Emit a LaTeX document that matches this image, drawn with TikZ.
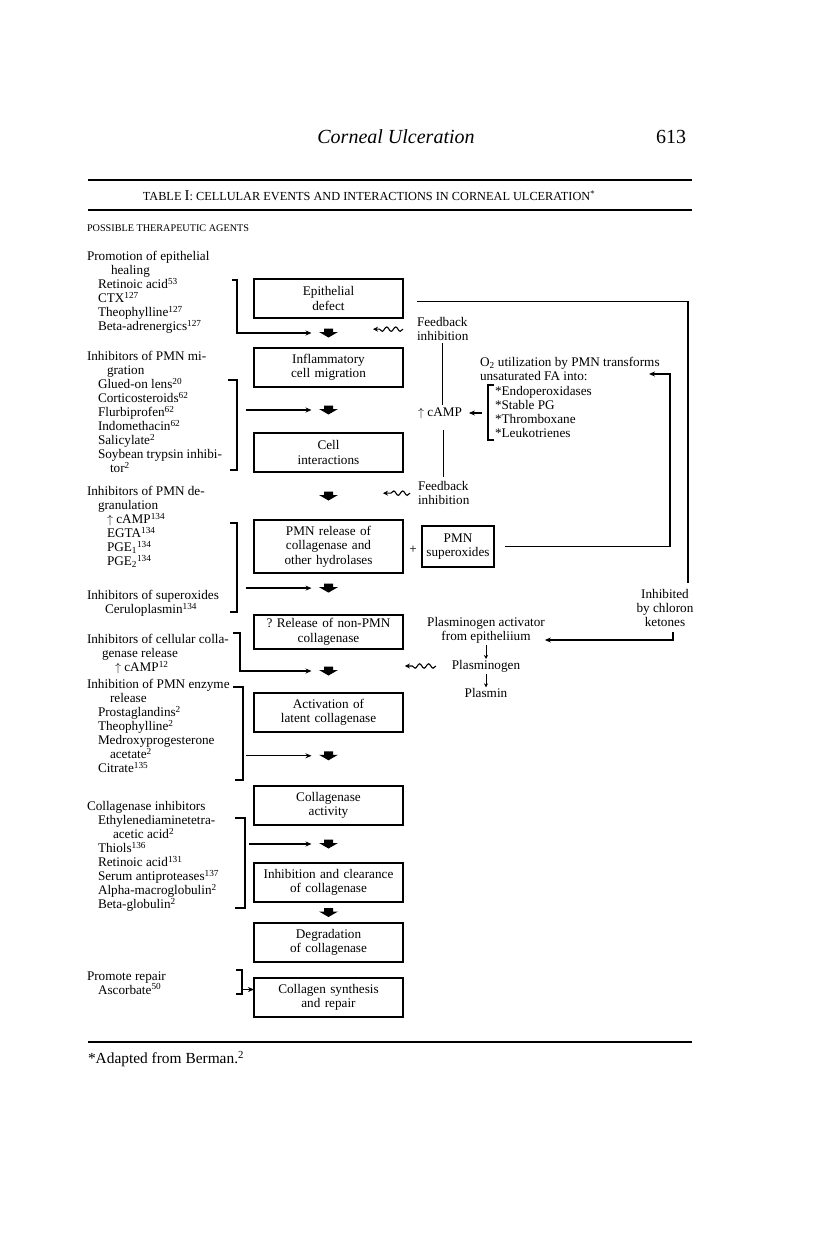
\documentclass[tikz,border=0pt]{standalone}
\usepackage{fontspec}
\setmainfont{Liberation Serif}
\usetikzlibrary{arrows.meta, positioning, calc, decorations.pathmorphing}

\newcommand{\agind}[1]{\hspace*{#1pt}}

\begin{document}
\begin{tikzpicture}[
      x=1pt, y=-1pt,
      every node/.style={inner sep=0pt, outer sep=0pt, font=\fontsize{13.2}{14}\selectfont},
      box/.style={rectangle, draw, line width=1.5pt, text width=141pt,
                  inner xsep=4pt, align=center, minimum height=39pt,
                  font=\fontsize{13.2}{14.5}\selectfont},
      agents/.style={anchor=north west, align=left},
      line/.style={draw, line width=1.3pt, -{Stealth[length=6pt, width=5pt]}},
      link/.style={draw, line width=1.3pt},
      tinyarrow/.style={draw, line width=1pt, -{Stealth[length=4pt, width=4pt]}},
      squig/.style={draw, line width=1.1pt, -{Stealth[length=5pt, width=5pt]},
                    decorate, decoration={snake, amplitude=2.2pt,
                    segment length=9pt, post length=6pt}},
      fatdown/.pic={\fill (-4.5,-4.5) -- (4.5,-4.5) -- (4.5,-1) -- (9.5,-1)
                    -- (0,4.5) -- (-9.5,-1) -- (-4.5,-1) -- cycle;}
  ]
      \useasboundingbox (0,0) rectangle (816,1246);

      % page head
      \node (title) at (396,137) {\fontsize{20}{24}\selectfont\itshape Corneal Ulceration};
      \node[anchor=east] (page) at (686,137) {\fontsize{20}{24}\selectfont 613};
      \draw[line width=2.2pt] (88,180) -- (692,180);
      \node (caption) at (369,196) {\fontsize{12.3}{14}\selectfont TABLE
          {\fontsize{15}{14}\selectfont I}: CELLULAR EVENTS AND INTERACTIONS IN CORNEAL ULCERATION\textsuperscript{*}};
      \draw[line width=1.2pt] (88,210) -- (692,210);
      \node[anchor=west] (possible) at (87,228) {\fontsize{10.2}{12}\selectfont POSSIBLE THERAPEUTIC AGENTS};

      % main chain
      \node[box] (b1) at (328.5,298.5) {Epithelial\\defect};
      \node[box, below=30pt of b1] (b2) {Inflammatory\\cell migration};
      \node[box, below=46pt of b2] (b3) {Cell\\interactions};
      \node[box, minimum height=53pt, below=48pt of b3] (b4)
          {PMN release of\\collagenase and\\other hydrolases};
      \node[box, text width=64pt, minimum height=41pt, right=19pt of b4] (b5)
          {PMN\\superoxides};
      \node[box, minimum height=34pt, below=42pt of b4] (b6)
          {?\ Release of non-PMN\\collagenase};
      \node[box, below=44pt of b6] (b7) {Activation of\\latent collagenase};
      \node[box, below=54pt of b7] (b8) {Collagenase\\activity};
      \node[box, below=38pt of b8] (b9) {Inhibition and clearance\\of collagenase};
      \node[box, below=21pt of b9] (b10) {Degradation\\of collagenase};
      \node[box, below=16pt of b10] (b11) {Collagen synthesis\\and repair};
      \node (plus) at (413,550) {+};

      \coordinate (fa1) at ($(b1.south)!0.5!(b2.north)$);
      \coordinate (fa2) at ($(b2.south)!0.5!(b3.north)$);
      \coordinate (fa3) at ($(b3.south)!0.5!(b4.north)$);
      \coordinate (fa4) at ($(b4.south)!0.36!(b6.north)$);
      \coordinate (fa5) at ($(b6.south)!0.5!(b7.north)$);
      \coordinate (fa6) at ($(b7.south)!0.44!(b8.north)$);
      \coordinate (fa7) at ($(b8.south)!0.5!(b9.north)$);
      \coordinate (fa8) at ($(b9.south)!0.5!(b10.north)$);
      \foreach \c in {fa1,fa2,fa3,fa4,fa5,fa6,fa7,fa8}
          \pic at (\c) {fatdown};

      % therapeutic agents
      \node[agents] (g1) at (87,251.5) {Promotion of epithelial\\
          \agind{24}healing\\
          \agind{11}Retinoic acid\textsuperscript{53}\\
          \agind{11}CTX\textsuperscript{127}\\
          \agind{11}Theophylline\textsuperscript{127}\\
          \agind{11}Beta-adrenergics\textsuperscript{127}};
      \node[agents] (g2) at (87,351.5) {Inhibitors of PMN mi-\\
          \agind{20}gration\\
          \agind{11}Glued-on lens\textsuperscript{20}\\
          \agind{11}Corticosteroids\textsuperscript{62}\\
          \agind{11}Flurbiprofen\textsuperscript{62}\\
          \agind{11}Indomethacin\textsuperscript{62}\\
          \agind{11}Salicylate\textsuperscript{2}\\
          \agind{11}Soybean trypsin inhibi-\\
          \agind{23}tor\textsuperscript{2}};
      \node[agents] (g3) at (87,486.5) {Inhibitors of PMN de-\\
          \agind{11}granulation\\
          \agind{20}$\uparrow$ cAMP\textsuperscript{134}\\
          \agind{20}EGTA\textsuperscript{134}\\
          \agind{20}PGE\textsubscript{1}\textsuperscript{134}\\
          \agind{20}PGE\textsubscript{2}\textsuperscript{134}};
      \node[agents] (g3b) at (87,590.5) {Inhibitors of superoxides\\
          \agind{18}Ceruloplasmin\textsuperscript{134}};
      \node[agents] (g4) at (87,634.5) {Inhibitors of cellular colla-\\
          \agind{15}genase release\\
          \agind{28}$\uparrow$ cAMP\textsuperscript{12}};
      \node[agents] (g5) at (87,679.5) {Inhibition of PMN enzyme\\
          \agind{23}release\\
          \agind{11}Prostaglandins\textsuperscript{2}\\
          \agind{11}Theophylline\textsuperscript{2}\\
          \agind{11}Medroxyprogesterone\\
          \agind{23}acetate\textsuperscript{2}\\
          \agind{11}Citrate\textsuperscript{135}};
      \node[agents] (g6) at (87,801.5) {Collagenase inhibitors\\
          \agind{11}Ethylenediaminetetra-\\
          \agind{26}acetic acid\textsuperscript{2}\\
          \agind{11}Thiols\textsuperscript{136}\\
          \agind{11}Retinoic acid\textsuperscript{131}\\
          \agind{11}Serum antiproteases\textsuperscript{137}\\
          \agind{11}Alpha-macroglobulin\textsuperscript{2}\\
          \agind{11}Beta-globulin\textsuperscript{2}};
      \node[agents] (g7) at (87,971.5) {Promote repair\\
          \agind{11}Ascorbate\textsuperscript{50}};

      % brackets and their arrows
      \draw[line] (232,280) -- (237,280) |- ($(fa1)+(-17,0)$);
      \draw[link] (228,380) -- (237,380) -- (237,470) -- (230,470);
      \draw[line] ($(fa2)+(-83,0)$) -- ($(fa2)+(-17,0)$);
      \draw[link] (230,523) -- (237,523) -- (237,612) -- (230,612);
      \draw[line] ($(fa4)+(-83,0)$) -- ($(fa4)+(-17,0)$);
      \draw[line] (233,633) -- (240,633) |- ($(fa5)+(-17,0)$);
      \draw[link] (233,687) -- (243,687) -- (243,780) -- (235,780);
      \draw[line] ($(fa6)+(-83,0)$) -- ($(fa6)+(-17,0)$);
      \draw[link] (235,818) -- (245,818) -- (245,908) -- (235,908);
      \draw[line] ($(fa7)+(-80,0)$) -- ($(fa7)+(-17,0)$);
      \draw[link] (236,970) -- (242,970) -- (242,994) -- (236,994);
      \draw[line] (242,989.5) -- ([yshift=8pt]b11.west);

      % feedback side
      \node[agents] (fb1) at (417,317.5) {Feedback\\inhibition};
      \node[agents] (fb2) at (418,481.5) {Feedback\\inhibition};
      \node (camp) at (440,413) {$\uparrow$ cAMP};
      \node[agents] (o2) at (480,357.5)
          {O\textsubscript{2} utilization by PMN transforms\\unsaturated FA into:};
      \node[agents] (fal) at (495,386.5)
          {*Endoperoxidases\\*Stable PG\\*Thromboxane\\*Leukotrienes};
      \draw[squig] ([xshift=-14pt]fb1.west) -- ([xshift=-44pt]fb1.west);
      \draw[squig] ([xshift=-8pt]fb2.west) -- ([xshift=-35pt]fb2.west);
      \draw[link, shorten <=2pt, shorten >=2pt] (fb1.south) -- (fb1.south |- camp.north);
      \draw[link, shorten <=11pt, shorten >=5pt] (fb2.north |- camp.south) -- (fb2.north);
      \draw[link] (494,385) -- (488,385) -- (488,440) -- (494,440);
      \draw[line] (482,413) -- ([xshift=7pt]camp.east);

      % right loop
      \coordinate (rtop) at (688,583);
      \draw[link] ([xshift=14pt, yshift=-3pt]b1.east) -| (rtop);
      \coordinate (o2in) at (649,374);
      \draw[line] ([xshift=11pt]b5.east) -| ([xshift=21pt]o2in) -- (o2in);

      % plasminogen
      \node[align=center] (inhib) at (665,608) {Inhibited\\by chloron\\ketones};
      \node[align=center] (pact) at (486,630) {Plasminogen activator\\from epitheliium};
      \node (plg) at (486,666) {Plasminogen};
      \node (pln) at (486,693) {Plasmin};
      \coordinate (kt) at (673,632);
      \coordinate (pain) at ([yshift=-10pt]pact.east);
      \draw[line] (kt) |- (pain);
      \draw[tinyarrow, shorten <=2pt, shorten >=1pt] (pact.south) -- (plg.north);
      \draw[tinyarrow, shorten <=2pt, shorten >=1pt] (plg.south) -- (pln.north);
      \draw[squig] ([xshift=-16pt]plg.west) -- ([xshift=-47pt]plg.west);

      % foot
      \draw[line width=2.2pt] (88,1042) -- (692,1042);
      \node[anchor=west] (note) at (88,1059)
          {\fontsize{15.4}{18}\selectfont *Adapted from Berman.\textsuperscript{2}};
  \end{tikzpicture}
\end{document}
